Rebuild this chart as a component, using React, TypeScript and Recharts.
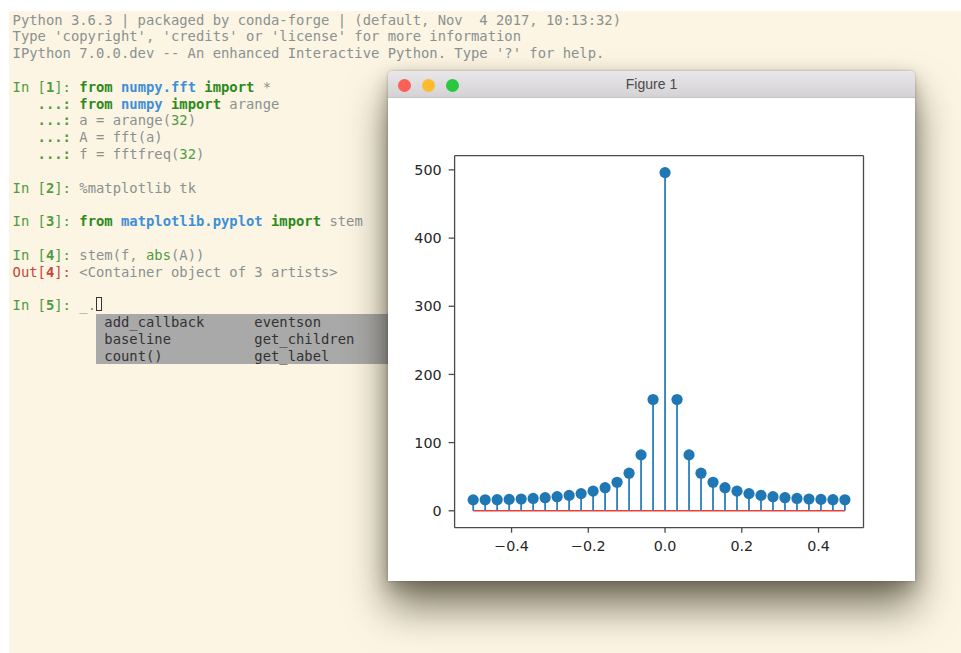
import React from "react";
import {
  ComposedChart,
  XAxis,
  YAxis,
  Scatter,
  ReferenceLine,
} from "recharts";

// ---- data: stem(f, abs(fft(arange(32)))) ----
const freqs = [
  -0.5, -0.46875, -0.4375, -0.40625, -0.375, -0.34375, -0.3125, -0.28125,
  -0.25, -0.21875, -0.1875, -0.15625, -0.125, -0.09375, -0.0625, -0.03125,
  0, 0.03125, 0.0625, 0.09375, 0.125, 0.15625, 0.1875, 0.21875,
  0.25, 0.28125, 0.3125, 0.34375, 0.375, 0.40625, 0.4375, 0.46875,
];
const magnitudes = [
  16.0, 16.1, 16.3, 16.7, 17.3, 18.1, 19.2, 20.7,
  22.6, 25.2, 28.8, 33.9, 41.8, 55.1, 82.0, 163.2,
  496.0, 163.2, 82.0, 55.1, 41.8, 33.9, 28.8, 25.2,
  22.6, 20.7, 19.2, 18.1, 17.3, 16.7, 16.3, 16.1,
];
const xTicks = [-0.4, -0.2, 0, 0.2, 0.4];
const yTicks = [0, 100, 200, 300, 400, 500];
const xDomain = [-0.5484375, 0.5171875];
const yDomain = [-24.8, 520.8];
const baselineFrom = -0.5;
const baselineTo = 0.46875;

const points = freqs.map((f, i) => ({ f, v: magnitudes[i] }));

// ---- terminal text ----
type Seg = [string, string?, boolean?];
const GRAY = "#8a9191";
const PGREEN = "#4f9b3f";
const KGREEN = "#2c8a1c";
const BLUE = "#3c8fd8";
const RED = "#c4463a";

const prompt = (n: string): Seg[] => [
  ["In [", PGREEN],
  [n, PGREEN, true],
  ["]: ", PGREEN],
];
const cont: Seg[] = [["   ", GRAY], ["...:", PGREEN, true], [" ", GRAY]];

const termLines: Seg[][] = [
  [["Python 3.6.3 | packaged by conda-forge | (default, Nov  4 2017, 10:13:32)"]],
  [["Type 'copyright', 'credits' or 'license' for more information"]],
  [["IPython 7.0.0.dev -- An enhanced Interactive Python. Type '?' for help."]],
  [],
  [...prompt("1"), ["from", KGREEN, true], [" "], ["numpy.fft", BLUE, true], [" "], ["import", KGREEN, true], [" *"]],
  [...cont, ["from", KGREEN, true], [" "], ["numpy", BLUE, true], [" "], ["import", KGREEN, true], [" arange"]],
  [...cont, ["a = arange("], ["32", PGREEN], [")"]],
  [...cont, ["A = fft(a)"]],
  [...cont, ["f = fftfreq("], ["32", PGREEN], [")"]],
  [],
  [...prompt("2"), ["%matplotlib tk"]],
  [],
  [...prompt("3"), ["from", KGREEN, true], [" "], ["matplotlib.pyplot", BLUE, true], [" "], ["import", KGREEN, true], [" stem"]],
  [],
  [...prompt("4"), ["stem(f, "], ["abs", PGREEN], ["(A))"]],
  [["Out[", RED], ["4", RED, true], ["]: ", RED], ["<Container object of 3 artists>"]],
  [],
  [...prompt("5"), ["_."]],
];
const completions = [
  ["add_callback", "eventson"],
  ["baseline", "get_children"],
  ["count()", "get_label"],
];

const MONO = "'DejaVu Sans Mono', monospace";
const FS = 13.85;
const LH = 16.8;
const CW = FS * 0.602;
const TOP0 = 11.6;
const LEFT0 = 12.6;

const StemMarker = (p: any) => (
  <circle cx={p.cx} cy={p.cy} r={5.6} fill="#1f77b4" />
);

const fmtX = (v: number) => {
  const s = v.toFixed(1);
  return v < 0 ? "\u2212" + s.slice(1) : s;
};

const AXIS = "#4a4a4a";
const tickStyle = { fill: "#262626", fontSize: 14.3, fontFamily: "'DejaVu Sans', sans-serif" };

export default function App() {
  return (
    <div
      style={{
        position: "absolute",
        left: 0,
        top: 0,
        width: 961,
        height: 653,
        background: "#ffffff",
        overflow: "hidden",
      }}
    >
      {/* terminal */}
      <div
        style={{
          position: "absolute",
          left: 9,
          top: 11,
          width: 952,
          height: 642,
          background: "#fcf5e3",
        }}
      />
      {termLines.map((segs, i) => (
        <div
          key={i}
          style={{
            position: "absolute",
            left: LEFT0,
            top: TOP0 + i * LH,
            height: LH,
            lineHeight: LH + "px",
            fontFamily: MONO,
            fontSize: FS,
            whiteSpace: "pre",
            color: GRAY,
          }}
        >
          {segs.map((s, j) => (
            <span
              key={j}
              style={{ color: s[1] || GRAY, fontWeight: s[2] ? "bold" : "normal" }}
            >
              {s[0]}
            </span>
          ))}
        </div>
      ))}
      {/* cursor */}
      <div
        style={{
          position: "absolute",
          left: LEFT0 + 10 * CW,
          top: TOP0 + 17 * LH - 0.5,
          width: CW - 2,
          height: LH - 2,
          border: "1.5px solid #333",
          boxSizing: "border-box",
        }}
      />
      {/* completion popup */}
      <div
        style={{
          position: "absolute",
          left: LEFT0 + 10 * CW,
          top: TOP0 + 18 * LH,
          width: 320,
          height: 3 * LH,
          background: "#a9a9a9",
        }}
      />
      {completions.map((row, i) => (
        <div
          key={"c" + i}
          style={{
            position: "absolute",
            left: LEFT0 + 11 * CW,
            top: TOP0 + (18 + i) * LH,
            height: LH,
            lineHeight: LH + "px",
            fontFamily: MONO,
            fontSize: FS,
            whiteSpace: "pre",
            color: "#333333",
          }}
        >
          {row[0].padEnd(18, " ") + row[1]}
        </div>
      ))}

      {/* figure window */}
      <div
        style={{
          position: "absolute",
          left: 388,
          top: 71,
          width: 527,
          height: 510,
          background: "#ffffff",
          borderRadius: "5px 5px 0 0",
          boxShadow:
            "0 26px 40px rgba(40,35,15,0.6), 0 6px 18px rgba(0,0,0,0.25), 0 0 3px rgba(0,0,0,0.25)",
          overflow: "hidden",
        }}
      >
        <div
          style={{
            position: "absolute",
            left: 0,
            top: 0,
            width: 527,
            height: 27,
            background: "linear-gradient(#e9e7e9, #d4d2d4)",
            borderBottom: "1px solid #c4c2c4",
            boxSizing: "border-box",
          }}
        >
          {["#fc5f57", "#fdbc2e", "#2ac840"].map((c, i) => (
            <div
              key={c}
              style={{
                position: "absolute",
                left: 16 + i * 24 - 6.5,
                top: 14 - 6.5,
                width: 13,
                height: 13,
                borderRadius: "50%",
                background: c,
              }}
            />
          ))}
          <div
            style={{
              position: "absolute",
              left: 0,
              top: 0,
              width: 527,
              height: 27,
              lineHeight: "27px",
              textAlign: "center",
              fontFamily: "'Liberation Sans', Arial, sans-serif",
              fontSize: 14,
              color: "#4a4a4a",
            }}
          >
            Figure 1
          </div>
        </div>
        <div style={{ position: "absolute", left: 0, top: 27 }}>
          <ComposedChart
            width={527}
            height={483}
            data={points}
            margin={{ top: 55.7, right: 49.5, left: 6.6, bottom: 23.3 }}
          >
            <XAxis
              type="number"
              dataKey="f"
              domain={xDomain}
              allowDataOverflow
              ticks={xTicks}
              tickFormatter={fmtX}
              height={30}
              tickSize={5}
              tickMargin={8}
              stroke={AXIS}
              strokeWidth={1.3}
              tick={tickStyle}
            />
            <XAxis
              xAxisId="top"
              orientation="top"
              type="number"
              domain={[0, 1]}
              height={2}
              tick={false}
              tickLine={false}
              stroke={AXIS}
              strokeWidth={1.3}
            />
            <YAxis
              type="number"
              domain={yDomain}
              allowDataOverflow
              ticks={yTicks}
              width={60}
              tickSize={6}
              tickMargin={7}
              stroke={AXIS}
              strokeWidth={1.3}
              tick={tickStyle}
            />
            <YAxis
              yAxisId="right"
              orientation="right"
              type="number"
              domain={[0, 1]}
              width={2}
              tick={false}
              tickLine={false}
              stroke={AXIS}
              strokeWidth={1.3}
            />
            {points.map((p) => (
              <ReferenceLine
                key={"s" + p.f}
                segment={[
                  { x: p.f, y: 0 },
                  { x: p.f, y: p.v },
                ]}
                stroke="#2a7fba"
                strokeWidth={1.8}
                ifOverflow="visible"
              />
            ))}
            <ReferenceLine
              segment={[
                { x: baselineFrom, y: 0 },
                { x: baselineTo, y: 0 },
              ]}
              stroke="#e5403a"
              strokeWidth={1.6}
              ifOverflow="visible"
            />
            <Scatter
              dataKey="v"
              fill="#1f77b4"
              shape={StemMarker}
              isAnimationActive={false}
            />
          </ComposedChart>
        </div>
      </div>
    </div>
  );
}
